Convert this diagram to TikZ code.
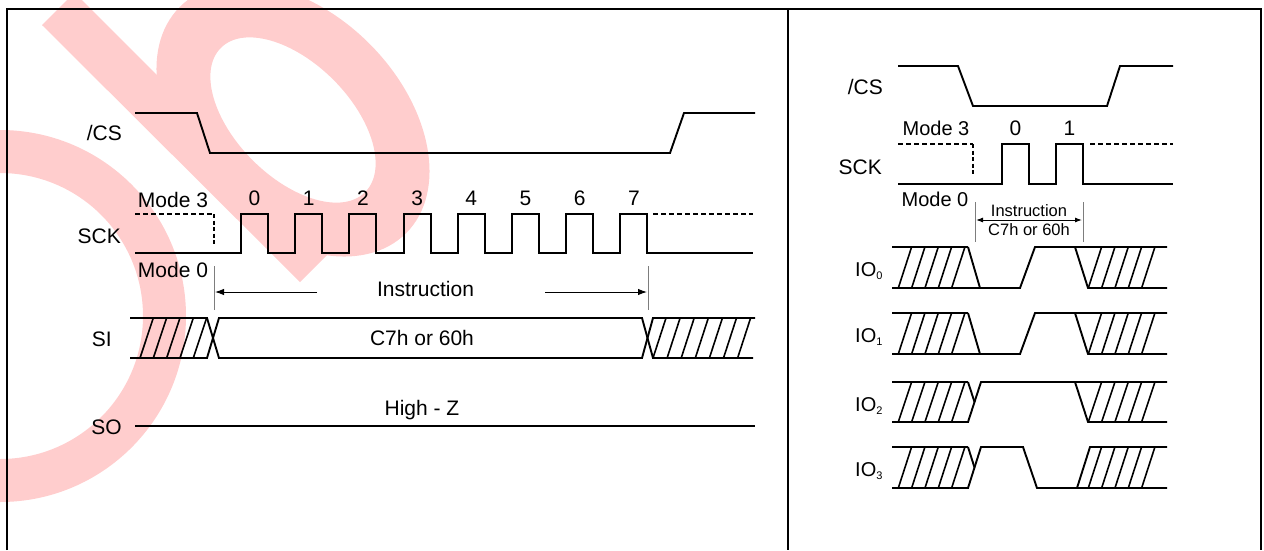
\documentclass[tikz,border=0pt]{standalone}
\usepackage{fontspec}
\setmainfont{Liberation Sans}
\usetikzlibrary{arrows.meta}
\definecolor{wmpink}{RGB}{255,205,205}
\definecolor{refgray}{RGB}{125,125,125}
\begin{document}
\begin{tikzpicture}[x=1pt,y=-1pt,
  sig/.style={line width=1.9pt, line join=miter, line cap=butt},
  hatchln/.style={line width=1.6pt},
  dsh/.style={line width=1.8pt, dash pattern=on 5pt off 3pt},
  dotv/.style={line width=1.8pt, dash pattern=on 4pt off 2.5pt},
  frameln/.style={line width=2pt},
  refl/.style={line width=0.8pt, draw=refgray},
  arr/.style={line width=1pt, -{Latex[length=9pt,width=6.5pt]}},
  darr/.style={line width=1pt, {Latex[length=7pt,width=5pt]}-{Latex[length=7pt,width=5pt]}},
  lbl/.style={font=\fontsize{21}{25}\selectfont, inner sep=0pt, text height=15pt, text depth=0pt},
  mlbl/.style={font=\fontsize{20}{24}\selectfont, inner sep=0pt, text height=14.3pt, text depth=0pt},
  slbl/.style={font=\fontsize{16.5}{19}\selectfont, inner sep=0pt, text height=11.8pt, text depth=0pt},
  wm/.style={fill=wmpink, even odd rule}
]
\useasboundingbox (0,0) rectangle (1264,550);

% ---------- watermark ----------
\fill[wm] (0,316) circle[radius=186] (0,316) circle[radius=143];
\begin{scope}[shift={(293,120)}, rotate=-45]
  \fill[wm] (0,0) ellipse[x radius=160, y radius=108] (0,0) ellipse[x radius=102, y radius=57];
\end{scope}
\fill[wmpink] (42,25) -- (67,0) -- (82,0) -- (332,250) -- (300,282) -- cycle;

% ---------- frame ----------
\draw[frameln] (7,550) -- (7,9) -- (1261,9) -- (1261,550);
\draw[frameln] (788,9) -- (788,550);

% ================= LEFT PANEL =================
\node[lbl, anchor=east] (csL)  at (122,133) {/CS};
\node[lbl, anchor=east] (sckL) at (121,236) {SCK};
\node[lbl, anchor=east] (siL)  at (112,339) {SI};
\node[lbl, anchor=east] (soL)  at (122,427) {SO};
\node[lbl] (m3L) at (173,200) {Mode 3};
\node[lbl] (m0L) at (173,270) {Mode 0};

% /CS
\draw[sig] (135,113) -- (197,113) -- (210,153) -- (670,153) -- (684,113) -- (755,113);

% SCK
\draw[dsh] (135,214) -- (214,214);
\draw[dotv] (214,214) -- (214,245);
\draw[sig] (135,253) \foreach \k in {0,...,7} { -- ({241+54.2*\k},253) -- ({241+54.2*\k},214) -- ({268+54.2*\k},214) -- ({268+54.2*\k},253) } -- (753,253);
\draw[dsh] (653,214) -- (753,214);
\foreach \k in {0,...,7} \node[lbl, name=d\k] at ({254.5+54.2*\k},198) {\k};

% Instruction markers
\draw[refl] (214,266) -- (214,310);
\draw[refl] (648,266) -- (648,310);
\coordinate (ila) at (317,292);
\coordinate (ilb) at (215,292);
\coordinate (ira) at (545,292);
\coordinate (irb) at (647,292);
\draw[arr] (ila) -- (ilb);
\draw[arr] (ira) -- (irb);
\node[lbl] (insL) at (425.5,289) {Instruction};

% SI
\draw[sig] (130,318) -- (207,318) -- (219,358) -- (642,358) -- (653,318) -- (755,318);
\draw[sig] (130,358) -- (207,358) -- (219,318) -- (642,318) -- (653,358) -- (753,358);
\foreach \k in {0,...,4} \draw[hatchln] ({140+13.33*\k},358) -- ({153.3+13.33*\k},318);
\foreach \k in {0,...,6} \draw[hatchln] ({653+14.1*\k},358) -- ({666+14.1*\k},318);
\node[lbl] (dataL) at (422,338) {C7h or 60h};

% SO
\draw[sig] (135,426) -- (755,426);
\node[lbl] (hiz) at (422,408) {High - Z};

% ================= RIGHT PANEL =================
\node[lbl, anchor=east] (csR)  at (883,87) {/CS};
\node[lbl, anchor=east] (sckR) at (882,167) {SCK};
\node[mlbl] (m3R) at (936,128) {Mode 3};
\node[mlbl] (m0R) at (935,199) {Mode 0};
\node[lbl] (r0) at (1015.5,128) {0};
\node[lbl] (r1) at (1069.5,128) {1};

% /CS
\draw[sig] (898,66) -- (958,66) -- (973,106) -- (1107,106) -- (1120,66) -- (1173,66);

% SCK
\draw[dsh] (898,144) -- (973,144);
\draw[dotv] (973,144) -- (973,174);
\draw[sig] (898,184) -- (1002,184) -- (1002,144) -- (1029,144) -- (1029,184) -- (1056,184) -- (1056,144) -- (1083,144) -- (1083,184) -- (1173,184);
\draw[dsh] (1090,144) -- (1173,144);

% Instruction markers
\draw[refl] (975,202) -- (975,242);
\draw[refl] (1083,202) -- (1083,242);
\coordinate (iza) at (976,220);
\coordinate (izb) at (1082,220);
\draw[darr] (iza) -- (izb);
\node[slbl] (insR)  at (1029,211) {Instruction};
\node[slbl] (dataR) at (1029,230) {C7h or 60h};

% IO labels
\node[mlbl, anchor=west] (io0) at (855,269.5) {IO\raisebox{-3pt}{\fontsize{11}{12}\selectfont 0}};
\node[mlbl, anchor=west] (io1) at (855,335.5) {IO\raisebox{-3pt}{\fontsize{11}{12}\selectfont 1}};
\node[mlbl, anchor=west] (io2) at (855,404)   {IO\raisebox{-3pt}{\fontsize{11}{12}\selectfont 2}};
\node[mlbl, anchor=west] (io3) at (855,469.5) {IO\raisebox{-3pt}{\fontsize{11}{12}\selectfont 3}};

% common hatched regions
\foreach \T/\B in {247/288, 313/354, 382/422, 447/488} {
  \draw[sig] (892,\T) -- (968,\T);
  \foreach \k in {0,...,4} \draw[hatchln] ({898.3+13.33*\k},\B) -- ({911.6+13.33*\k},\T);
  \foreach \k in {0,...,4} \draw[hatchln] ({1088.3+13.33*\k},\B) -- ({1101.6+13.33*\k},\T);
}

% IO0 and IO1 : 0 then 1
\foreach \T/\B in {247/288, 313/354} {
  \draw[sig] (968,\T) -- (980,\B);
  \draw[sig] (892,\B) -- (1020,\B) -- (1035,\T) -- (1167,\T);
  \draw[sig] (1075,\T) -- (1088,\B) -- (1167,\B);
}

% IO2 : 1 then 1
\draw[sig] (968,382) -- (974.5,402);
\draw[sig] (892,422) -- (968,422) -- (981,382) -- (1167,382);
\draw[sig] (1075,382) -- (1088,422) -- (1167,422);

% IO3 : 1 then 0
\draw[sig] (968,447) -- (974.5,467.5);
\draw[sig] (892,488) -- (968,488) -- (981,447) -- (1023,447) -- (1037,488) -- (1167,488);
\draw[sig] (1077,488) -- (1090,447) -- (1167,447);

\end{tikzpicture}
\end{document}
